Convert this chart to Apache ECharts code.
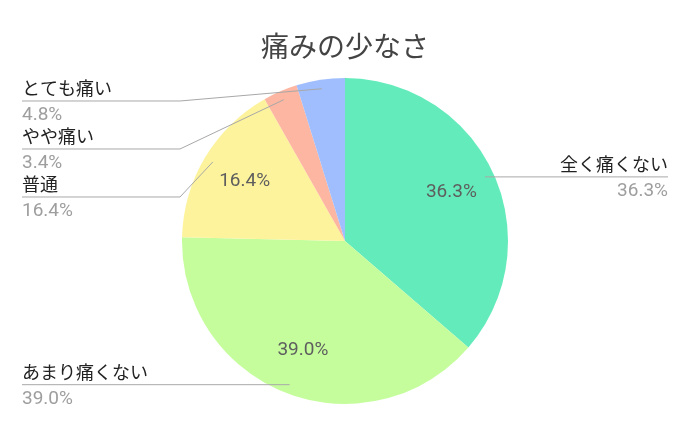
<!DOCTYPE html>
<html><head><meta charset="utf-8">
<script src="https://cdn.jsdelivr.net/npm/echarts@6/dist/echarts.min.js"></script>
<style>html,body{margin:0;padding:0;background:#fff}#c{width:690px;height:426px}</style>
</head><body><div id="c"></div>
<script>
const titleText = '痛みの少なさ';
const categories = ['全く痛くない', 'あまり痛くない', '普通', 'やや痛い', 'とても痛い'];
const values = [36.3, 39.0, 16.4, 3.4, 4.8];
const colors = ['#63EBBB', '#C5FD9D', '#FDF39D', '#FDB6A1', '#A0BEFD'];
const insideShown = [true, true, true, false, false];

const chart = echarts.init(document.getElementById('c'), null, { renderer: 'canvas' });
const R = 163, CY = 241;
const TOP = CY - R;
const pct = v => v.toFixed(1) + '%';
const jp = '"Noto Sans CJK JP", Roboto, sans-serif';
const num = 'Roboto, "Noto Sans CJK JP", sans-serif';
const clear = 'rgba(0,0,0,0)';

const baseData = categories.map((n, i) => ({ name: n, value: values[i] }));
const insideData = categories.map((n, i) => ({ name: n, value: values[i], label: { show: insideShown[i] } }));

const common = { type: 'pie', top: TOP, bottom: 0, left: 0, right: 0,
  center: ['50%', R], startAngle: 90, clockwise: true, silent: true };

const option = {
  animation: false,
  backgroundColor: '#fff',
  title: { text: titleText, left: 'center', top: 27,
    textStyle: { fontSize: 28, fontWeight: 'normal', color: '#444', fontFamily: jp } },
  color: colors,
  series: [
    Object.assign({}, common, { radius: [0, R], label: { show: false }, labelLine: { show: false },
      itemStyle: { borderWidth: 0 }, data: baseData, z: 1 }),
    Object.assign({}, common, { radius: [74, 154],
      itemStyle: { color: clear, borderWidth: 0 }, z: 3,
      label: { position: 'inside', color: '#5e5e5e', fontSize: 19, fontFamily: num,
        formatter: p => pct(p.value) },
      labelLine: { show: false }, data: insideData }),
    Object.assign({}, common, { radius: [0, 154],
      itemStyle: { color: clear, borderWidth: 0 }, z: 4,
      avoidLabelOverlap: true,
      label: { show: true, position: 'outside', alignTo: 'edge', edgeDistance: 22,
        formatter: p => '{n|' + p.name + '}\n{p|' + pct(p.value) + '}',
        rich: {
          n: { fontSize: 18, color: '#222', fontFamily: jp, lineHeight: 22 },
          p: { fontSize: 19, color: '#9e9e9e', fontFamily: num, lineHeight: 26, verticalAlign: 'bottom' }
        } },
      labelLine: { show: true, length: 0, length2: 20, smooth: false,
        lineStyle: { color: '#a8a8a8', width: 1 } },
      labelLayout: function (params) {
        const pts = params.labelLinePoints;
        if (!pts) return {};
        const w = chart.getWidth();
        const isLeft = params.labelRect.x < w / 2;
        if (isLeft) {
          pts[1][0] = w / 2 - R - 2;
          pts[2][0] = params.labelRect.x;
        } else {
          pts[2][0] = params.labelRect.x + params.labelRect.width;
        }
        return { labelLinePoints: pts };
      },
      data: baseData })
  ]
};
chart.setOption(option);
</script></body></html>
